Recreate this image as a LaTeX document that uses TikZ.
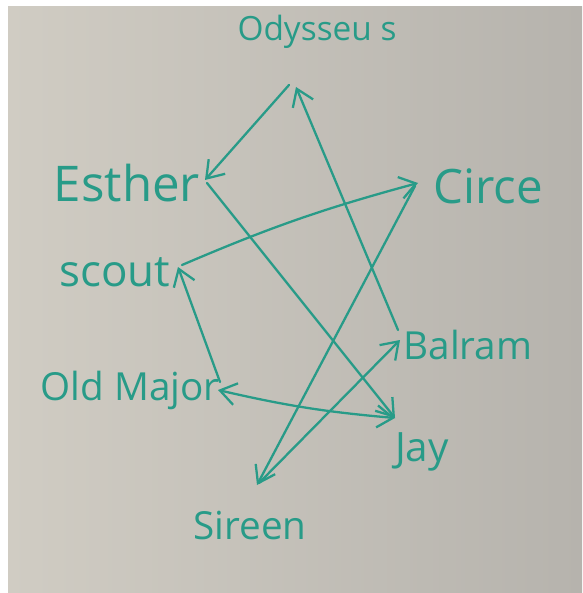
\documentclass[tikz,border=0pt]{standalone}
\usepackage{fontspec}
\setmainfont{Open Sans}
\usepackage{xcolor}
\usetikzlibrary{calc, arrows.meta}

\definecolor{ink}{RGB}{40,155,136}
\definecolor{boardL}{RGB}{208,204,195}
\definecolor{boardM}{RGB}{221,218,211}
\definecolor{boardR}{RGB}{182,179,173}

\tikzset{
    person/.style={text=ink, inner sep=0pt},
    link/.style={ink, line width=1.3pt, line cap=round, line join=round}
}

\begin{document}
\begin{tikzpicture}[>={Straight Barb[length=3.2mm, width=4.4mm]}, x=0.2mm, y=-0.2mm]
    % Bảng trắng
    \fill[white] (0,0) rectangle (582,593);
    \shade[left color=boardL, middle color=boardM, right color=boardR] (8,7) rectangle (582,593);
    \useasboundingbox (0,0) rectangle (582,593);

    % Các nhân vật
    \foreach \name/\px/\py/\fs/\txt in {odysseus/317/32/19/{Odysseu s}, esther/127/183/28/Esther,
        circe/488/186/27/Circe, scout/115/272/25/scout, balram/468/345/22/Balram,
        oldmajor/130/390/22/{Old Major}, jay/422/452/23/Jay, sireen/250/525/22/Sireen} {
        \node[person, font=\fontsize{\fs}{\fs}\selectfont] (\name) at (\px,\py) {\txt};
    }

    % Các mũi tên
    \draw[link, ->] ($(odysseus)+(-28,53)$) -- ($(esther)+(78,-3)$);
    \draw[link, ->] ($(balram)+(-70,-15)$) -- ($(odysseus)+(-21,55)$);
    \draw[link, ->] ($(esther)+(80,0)$) -- ($(jay)+(-27,-34)$);
    \draw[link, ->] ($(scout)+(67,-7)$) to[bend left=4] ($(circe)+(-70,-3)$);
    \draw[link, ->] ($(oldmajor)+(90,-8)$) -- ($(scout)+(63,-5)$);
    \draw[link, <->] ($(oldmajor)+(88,0)$) to[bend right=4] ($(jay)+(-27,-34)$);
    \draw[link, ->] ($(circe)+(-73,0)$) -- ($(sireen)+(7,-40)$);
    \draw[link, ->] ($(sireen)+(9,-42)$) -- ($(balram)+(-68,-5)$);

\end{tikzpicture}
\end{document}
